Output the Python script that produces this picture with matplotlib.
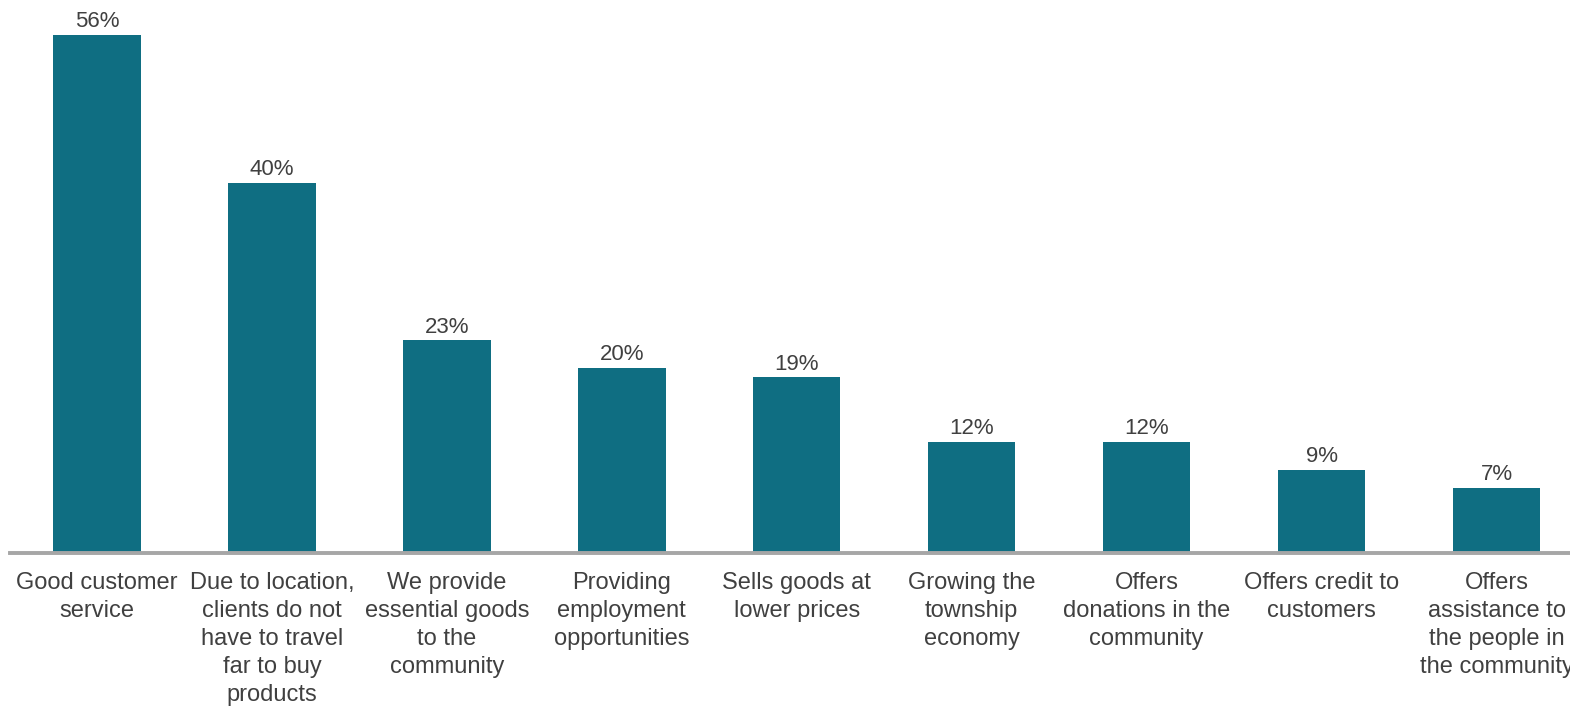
import matplotlib.pyplot as plt

# reasons given by respondents
categories = [
    "Good customer\nservice",
    "Due to location,\nclients do not\nhave to travel\nfar to buy\nproducts",
    "We provide\nessential goods\nto the\ncommunity",
    "Providing\nemployment\nopportunities",
    "Sells goods at\nlower prices",
    "Growing the\ntownship\neconomy",
    "Offers\ndonations in the\ncommunity",
    "Offers credit to\ncustomers",
    "Offers\nassistance to\nthe people in\nthe community",
]
values = [56, 40, 23, 20, 19, 12, 12, 9, 7]

plt.rcParams['font.family'] = ['Liberation Sans', 'DejaVu Sans']

fig = plt.figure(figsize=(15.7, 7.06), dpi=100)
ax = fig.add_axes([10 / 1570, 1 - 553 / 706, 1 - 10 / 1570, 553 / 706])

x = range(len(values))
bars = ax.bar(x, values, width=0.5, color='#0f6e82')
for b, v in zip(bars, values):
    ax.text(b.get_x() + b.get_width() / 2, v + 0.3, f"{v}%",
            ha='center', va='bottom', fontsize=16, color='#404040')

ax.set_xlim(-0.497, 8.42)
ax.set_ylim(0, 59.8)
ax.set_xticks(list(x))
ax.set_xticklabels(categories, fontsize=17, color='#404040', linespacing=1.35)
ax.tick_params(axis='x', length=0, pad=14)
ax.set_yticks([])
for s in ['top', 'right', 'left']:
    ax.spines[s].set_visible(False)
ax.spines['bottom'].set_color('#a6a6a6')
ax.spines['bottom'].set_linewidth(2.8)

fig.savefig('out.png', dpi=100)
